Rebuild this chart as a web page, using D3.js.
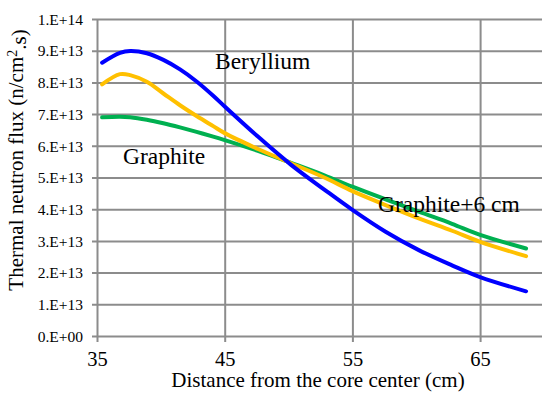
<!DOCTYPE html>
<html>
<head>
<meta charset="utf-8">
<script src="https://cdn.jsdelivr.net/npm/d3@7"></script>
<style>
  body { margin: 0; background: #fff; }
  svg text { font-family: "Liberation Serif", "Times New Roman", "DejaVu Serif", serif !important; fill: #000; }
</style>
</head>
<body>
<div id="chart"></div>
<script>
// distance from core center (cm)
var distance = [35.4, 36.8, 37.6, 38.9, 40.2, 41.5, 42.8, 44.1, 45, 47.6, 50.2, 52.8, 55, 57.6, 60.2, 62.8, 65, 68.6];
// thermal neutron flux (n/cm2.s)
var beryllium = [8.62e13, 8.93e13, 8.99e13, 8.92e13, 8.71e13, 8.41e13, 8.03e13, 7.58e13, 7.24e13, 6.29e13, 5.40e13, 4.62e13, 3.98e13, 3.29e13, 2.71e13, 2.23e13, 1.86e13, 1.41e13];
var graphitePlus6 = [7.94e13, 8.26e13, 8.23e13, 8.02e13, 7.65e13, 7.28e13, 6.94e13, 6.62e13, 6.40e13, 5.90e13, 5.45e13, 5.00e13, 4.57e13, 4.13e13, 3.71e13, 3.32e13, 2.97e13, 2.52e13];
var graphite = [6.90e13, 6.92e13, 6.90e13, 6.82e13, 6.71e13, 6.58e13, 6.44e13, 6.29e13, 6.18e13, 5.84e13, 5.46e13, 5.07e13, 4.71e13, 4.31e13, 3.92e13, 3.54e13, 3.19e13, 2.76e13];

var xTicks = [35, 45, 55, 65];
var yTicks = [0, 1e13, 2e13, 3e13, 4e13, 5e13, 6e13, 7e13, 8e13, 9e13, 1e14];
var yTickLabels = ['0.E+00', '1.E+13', '2.E+13', '3.E+13', '4.E+13', '5.E+13', '6.E+13', '7.E+13', '8.E+13', '9.E+13', '1.E+14'];

var w = 542;
var h = 393;
var gridColor = '#8c8c8c';
var serif = '"Liberation Serif", "Times New Roman", serif';

var svg = d3.select('#chart')
    .append('svg')
        .attr('width', w)
        .attr('height', h)
        .attr('font-family', serif);

var x = d3.scaleLinear().domain([35, 70]).range([97, 97 + 35 * 12.77]);
var y = d3.scaleLinear().domain([0, 1e14]).range([336, 19]);

// horizontal gridlines + y axis
var yAxis = d3.axisLeft(y)
    .tickValues(yTicks)
    .tickSize(-(w - x(35)))
    .tickSizeOuter(0)
    .tickPadding(14)
    .tickFormat((d, i) => yTickLabels[i]);

var gy = svg.append('g')
    .attr('transform', 'translate(' + x(35) + ',0)')
    .call(yAxis)
    .attr('font-family', serif);
gy.select('.domain').remove();
gy.selectAll('.tick line')
    .attr('x1', -5)
    .style('stroke', gridColor)
    .style('stroke-width', 2);
gy.selectAll('.tick text')
    .style('font-family', serif)
    .style('font-size', '15.5px')
    .attr('dy', '0.34em');

// vertical gridlines + x axis
var xAxis = d3.axisBottom(x)
    .tickValues(xTicks)
    .tickSize(-(y(0) - y(1e14)))
    .tickSizeOuter(0)
    .tickFormat(d3.format('d'));

var gx = svg.append('g')
    .attr('transform', 'translate(0,' + y(0) + ')')
    .call(xAxis)
    .attr('font-family', serif);
gx.select('.domain').remove();
gx.selectAll('.tick line')
    .attr('y1', 6)
    .style('stroke', gridColor)
    .style('stroke-width', 2);
gx.selectAll('.tick text')
    .attr('y', 30)
    .attr('dy', 0)
    .style('font-family', serif)
    .style('font-size', '20.5px');

// series
var line = d3.line()
    .x(d => x(d[0]))
    .y(d => y(d[1]))
    .curve(d3.curveCatmullRom.alpha(0.5));

var series = [
    { values: graphite, color: '#00b050' },
    { values: graphitePlus6, color: '#ffc000' },
    { values: beryllium, color: '#0000ff' }
];

svg.selectAll('path.series')
    .data(series)
    .enter()
    .append('path')
        .attr('class', 'series')
        .attr('d', s => line(distance.map((d, i) => [d, s.values[i]])))
        .style('fill', 'none')
        .style('stroke', s => s.color)
        .style('stroke-width', 4)
        .style('stroke-linecap', 'round');

// labels in the plot
function label(tx, ty, str) {
    svg.append('text')
        .attr('x', tx)
        .attr('y', ty)
        .style('font-family', serif)
        .style('font-size', '23.5px')
        .text(str);
}
label(215, 69, 'Beryllium');
label(123, 164, 'Graphite');
label(378, 212, 'Graphite+6 cm');

// axis titles
svg.append('text')
    .attr('x', 318)
    .attr('y', 387)
    .attr('text-anchor', 'middle')
    .style('font-family', serif)
    .style('font-size', '21px')
    .text('Distance from the core center (cm)');

var yt = svg.append('text')
    .attr('transform', 'translate(23,160) rotate(-90)')
    .attr('text-anchor', 'middle')
    .style('font-family', serif)
    .style('font-size', '21px');
yt.append('tspan').text('Thermal neutron flux (n/cm');
yt.append('tspan').attr('dy', '-0.45em').style('font-size', '14px').text('2');
yt.append('tspan').attr('dy', '0.45em').text('.s)');
</script>
</body>
</html>
